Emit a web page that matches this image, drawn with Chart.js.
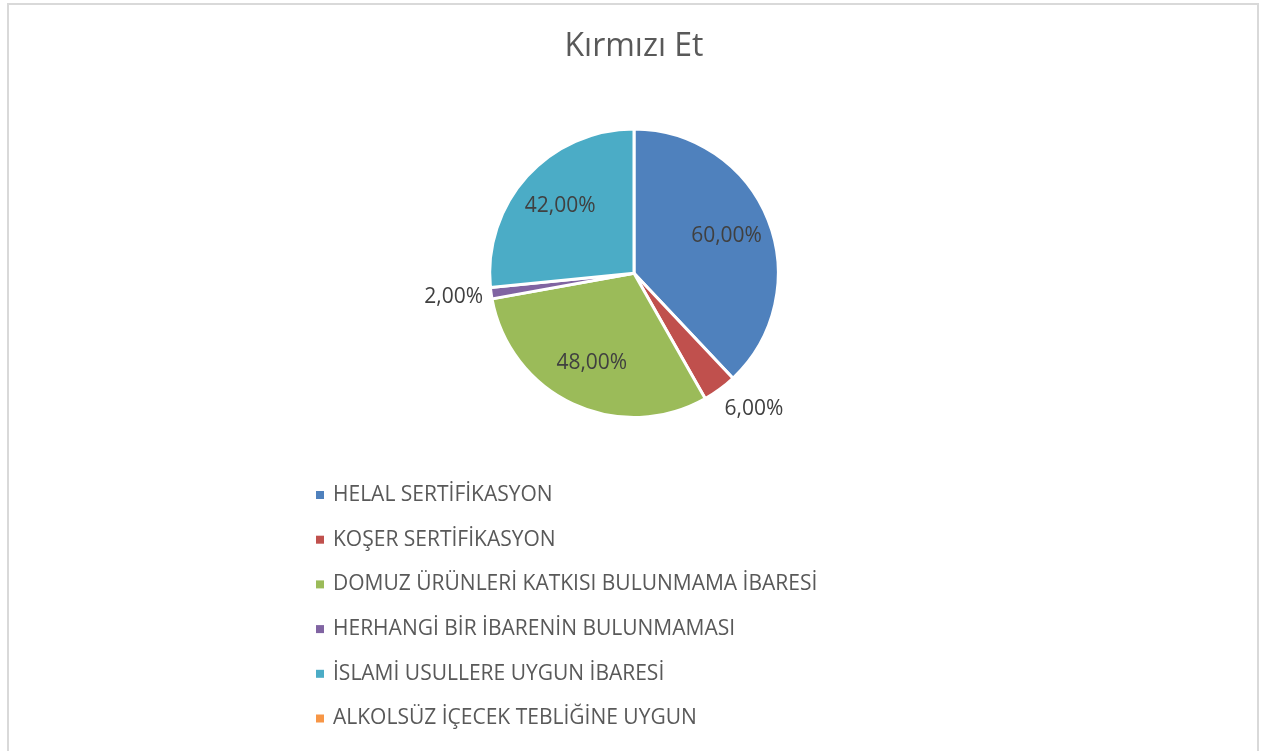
<!DOCTYPE html>
<html>
<head>
<meta charset="utf-8">
<script src="https://cdn.jsdelivr.net/npm/chart.js@4/dist/chart.umd.min.js"></script>
<style>
  html, body { margin: 0; padding: 0; background: #fff; overflow: hidden; }
  #frame { position: absolute; left: 7px; top: 3px; width: 1248px; height: 800px;
           border: 2px solid #d9d9d9; border-bottom: none; }
  #wrap { position: absolute; left: 0; top: 0; width: 1268px; height: 751px; }
</style>
</head>
<body>
<div id="frame"></div>
<div id="wrap"><canvas id="KirmiziEt"></canvas></div>
<script>
    //================================================================ Data
    var chartTitle = 'Kırmızı Et';
    var categories = [
        'HELAL SERTİFİKASYON',
        'KOŞER SERTİFİKASYON',
        'DOMUZ ÜRÜNLERİ KATKISI BULUNMAMA İBARESİ',
        'HERHANGİ BİR İBARENİN BULUNMAMASI',
        'İSLAMİ USULLERE UYGUN İBARESİ',
        'ALKOLSÜZ İÇECEK TEBLİĞİNE UYGUN'
    ];
    var percentValues = [60, 6, 48, 2, 42, 0];
    var sliceColors = ['#4F81BD', '#C0504D', '#9BBB59', '#8064A2', '#4BACC6', '#F79646'];

    var fontFamily = "'Open Sans', sans-serif";

    //Format like 60,00%
    function formatPercent(v) {
        return v.toFixed(2).replace('.', ',') + '%';
    }

    //================================================================ Data labels plugin
    var pieLabels = {
        id: 'pieLabels',
        afterDatasetsDraw: function(chart) {
            var ctx = chart.ctx;
            var meta = chart.getDatasetMeta(0);
            var data = chart.data.datasets[0].data;
            ctx.save();
            ctx.font = '21px ' + fontFamily;
            ctx.fillStyle = '#404040';
            ctx.textBaseline = 'middle';
            meta.data.forEach(function(arc, i) {
                if (!data[i]) return;
                var p = arc.getProps(['x', 'y', 'startAngle', 'endAngle', 'outerRadius'], true);
                var mid = (p.startAngle + p.endAngle) / 2;
                var span = p.endAngle - p.startAngle;
                var dx = Math.cos(mid), dy = Math.sin(mid);
                var txt = formatPercent(data[i]);
                if (span > 0.4) {
                    //big slices: label inside
                    ctx.textAlign = 'center';
                    var r = p.outerRadius * 0.69;
                    ctx.fillText(txt, p.x + dx * r, p.y + dy * r);
                } else {
                    //thin slices: label outside the pie
                    var r2 = p.outerRadius + 8;
                    var px = p.x + dx * r2, py = p.y + dy * r2;
                    ctx.textAlign = dx >= 0 ? 'left' : 'right';
                    ctx.fillText(txt, px, py + dy * 16);
                }
            });
            ctx.restore();
        }
    };

    //================================================================ Vertical legend plugin
    var listLegend = {
        id: 'listLegend',
        afterDraw: function(chart) {
            var ctx = chart.ctx;
            var ds = chart.data.datasets[0];
            ctx.save();
            ctx.font = '21px ' + fontFamily;
            ctx.textBaseline = 'middle';
            ctx.textAlign = 'left';
            chart.data.labels.forEach(function(label, i) {
                var y = 495 + i * 44.7;
                ctx.fillStyle = ds.backgroundColor[i];
                ctx.fillRect(316, y - 4, 8, 8);
                ctx.fillStyle = '#595959';
                ctx.fillText(label, 333, y);
            });
            ctx.restore();
        }
    };

    //================================================================ Pie chart
    var ctx = document.getElementById('KirmiziEt');
    var pieChart = new Chart(ctx, {
        type: 'pie',
        data: {
            labels: categories,
            datasets: [{
                data: percentValues,
                backgroundColor: sliceColors,
                borderColor: '#ffffff',
                borderWidth: 3
            }]
        },
        options: {
            responsive: true,
            maintainAspectRatio: false,
            animation: false,
            layout: { padding: { top: 0, bottom: 332 } },
            plugins: {
                legend: { display: false },
                tooltip: { enabled: false },
                title: {
                    display: true,
                    text: chartTitle,
                    color: '#595959',
                    font: { family: fontFamily, size: 32, weight: 'normal' },
                    padding: { top: 28, bottom: 61 }
                }
            }
        },
        plugins: [pieLabels, listLegend]
    });
</script>
</body>
</html>
